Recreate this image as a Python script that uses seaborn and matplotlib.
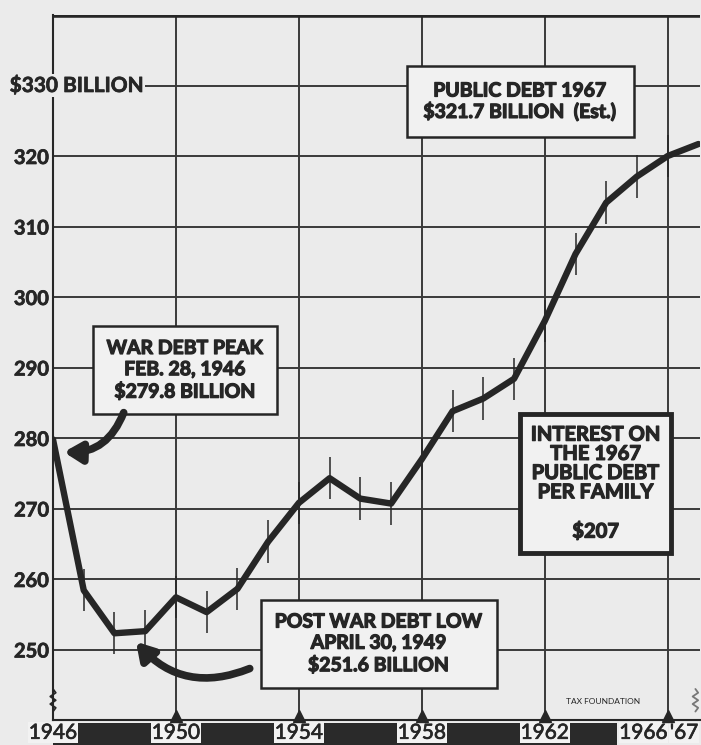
import matplotlib
matplotlib.use("Agg")
import matplotlib.pyplot as plt
import matplotlib.transforms as mtransforms
import matplotlib.patheffects as pe
from matplotlib.patches import Rectangle
import numpy as np
import pandas as pd
import seaborn as sns

years = [1946, 1947, 1948, 1949, 1950, 1951, 1952, 1953, 1954, 1955, 1956,
         1957, 1958, 1959, 1960, 1961, 1962, 1963, 1964, 1965, 1966, 1967]
debt = [279.8, 258.4, 252.3, 252.6, 257.4, 255.3, 258.6, 265.3, 270.8, 274.3, 271.4,
        270.7, 277.0, 283.8, 285.6, 288.4, 296.6, 306.1, 313.4, 317.1, 320.0, 321.7]

ytick_vals = [250, 260, 270, 280, 290, 300, 310, 320]
grid_y = [250, 260, 270, 280, 290, 300, 310, 320, 330]
xtick_vals = [1946, 1950, 1954, 1958, 1962, 1966, 1967]
xtick_labels = ["1946", "1950", "1954", "1958", "1962", "1966", "'67"]
grid_x = [1950, 1954, 1958, 1962, 1966]

df = pd.DataFrame({"year": years, "debt": debt})

bg = "#ebebeb"
ink = "#262626"
heavy = [pe.withStroke(linewidth=0.9, foreground=ink)]
semi = [pe.withStroke(linewidth=0.5, foreground=ink)]

sns.set_style("white", {"axes.facecolor": bg, "figure.facecolor": bg})
plt.rcParams["font.family"] = ["Lato", "DejaVu Sans"]
plt.rcParams["font.weight"] = "bold"

fig = plt.figure(figsize=(7.01, 7.45), dpi=100)
ax = fig.add_axes([53 / 701, 25 / 745, 647 / 701, 705 / 745])
ax.set_xlim(1946, 1967.05)
ax.set_ylim(240, 340)

# grid
for gy in grid_y:
    ax.axhline(gy, color="#3a3a3a", lw=1.4, zorder=1)
for gx in grid_x:
    ax.axvline(gx, color="#3a3a3a", lw=1.4, zorder=1)
ax.axhline(340, color=ink, lw=4, zorder=2)

# main series
sns.lineplot(data=df, x="year", y="debt", ax=ax, color=ink, lw=4.6, zorder=5)
ax.vlines(years[1:-1], np.array(debt[1:-1]) - 3, np.array(debt[1:-1]) + 3,
          color=ink, lw=1.1, zorder=4)

# axes frame
for s in ["top", "right"]:
    ax.spines[s].set_visible(False)
ax.spines["left"].set_color(ink)
ax.spines["left"].set_linewidth(1.5)
ax.spines["bottom"].set_color(ink)
ax.spines["bottom"].set_linewidth(1.5)

ax.set_yticks(ytick_vals)
ax.set_yticklabels([str(v) for v in ytick_vals], fontsize=14.5, color=ink)
ax.tick_params(axis="y", length=0, pad=3)
for lab in ax.get_yticklabels():
    lab.set_path_effects(semi)

ax.set_xticks(xtick_vals)
ax.set_xticklabels(xtick_labels, fontsize=15, color=ink, fontweight="normal")
ax.set_xticks(years, minor=True)
ax.tick_params(axis="x", which="major", length=0, pad=2)
ax.tick_params(axis="x", which="minor", direction="in", length=6, width=1.2, color=ink)
for lab in ax.get_xticklabels():
    lab.set_bbox(dict(facecolor="#f2f2f2", edgecolor="none", pad=0.5))
    lab.set_path_effects(semi)
    if lab.get_text() in ("1966", "'67"):
        lab.set_horizontalalignment("right")
ax.set_xlabel("")
ax.set_ylabel("")

ax.plot(grid_x, [240.6] * len(grid_x), marker="^", ls="none", color=ink, ms=8,
        clip_on=False, zorder=6)

# dark strip under axis
fig.patches.append(Rectangle((53 / 701, 0), 564 / 701, 22 / 745, transform=fig.transFigure,
                             facecolor="#2a2a2a", edgecolor="none", zorder=-5))

# axis break zigzags
zz_y = np.linspace(241.2, 244.4, 7)
zz_off = np.array([0, 1, -1, 1, -1, 1, 0]) * 0.09
ax.plot(1946 + zz_off, zz_y, color=ink, lw=1.3, zorder=6, clip_on=False)
ax.plot(1966.9 + zz_off, zz_y, color="#777777", lw=1.3, zorder=6, clip_on=False)

# y headline label
trans = mtransforms.blended_transform_factory(ax.transAxes, ax.transData)
ax.text(-0.067, 330, "$330 BILLION", transform=trans, fontsize=15, color=ink,
        ha="left", va="center", zorder=7, path_effects=semi,
        bbox=dict(facecolor=bg, edgecolor="none", pad=1))

box = dict(boxstyle="square,pad=0.7", facecolor="#f1f1f1", edgecolor=ink, lw=1.8)

ax.text(1961.2, 327.7, "PUBLIC DEBT 1967\n$321.7 BILLION  (Est.)", fontsize=14,
        color=ink, ha="center", va="center", linespacing=1.15, zorder=8,
        path_effects=heavy, bbox=dict(box, boxstyle="square,pad=0.85"))

ax.text(1950.3, 289.6, "WAR DEBT PEAK\nFEB. 28, 1946\n$279.8 BILLION", fontsize=14,
        color=ink, ha="center", va="center", linespacing=1.3, zorder=8,
        path_effects=heavy, bbox=box)

ax.text(1956.6, 250.8, "POST WAR DEBT LOW\nAPRIL 30, 1949\n$251.6 BILLION", fontsize=14,
        color=ink, ha="center", va="center", linespacing=1.3, zorder=8,
        path_effects=heavy, bbox=box)

ax.text(1963.65, 273.6, "INTEREST ON\nTHE 1967\nPUBLIC DEBT\nPER FAMILY\n\n$207",
        fontsize=14.5, color=ink, ha="center", va="center", linespacing=0.95, zorder=8,
        path_effects=heavy,
        bbox=dict(boxstyle="square,pad=0.55", facecolor="#f1f1f1", edgecolor=ink, lw=3.5))

ax.text(1963.9, 242.6, "TAX FOUNDATION", fontsize=6, color=ink, ha="center",
        va="center", fontweight="normal", zorder=8)

# curved arrows
arrow_kw = dict(arrowstyle="-|>,head_length=1.0,head_width=0.6", color=ink, lw=5.5,
                shrinkA=0, shrinkB=0)
ax.annotate("", xy=(1946.35, 278.0), xytext=(1948.3, 283.6),
            arrowprops=dict(connectionstyle="arc3,rad=-0.35", **arrow_kw), zorder=9)
ax.annotate("", xy=(1948.7, 251.1), xytext=(1952.4, 247.3),
            arrowprops=dict(connectionstyle="arc3,rad=-0.35", **arrow_kw), zorder=9)

fig.savefig("out.png", dpi=100, facecolor=bg)
